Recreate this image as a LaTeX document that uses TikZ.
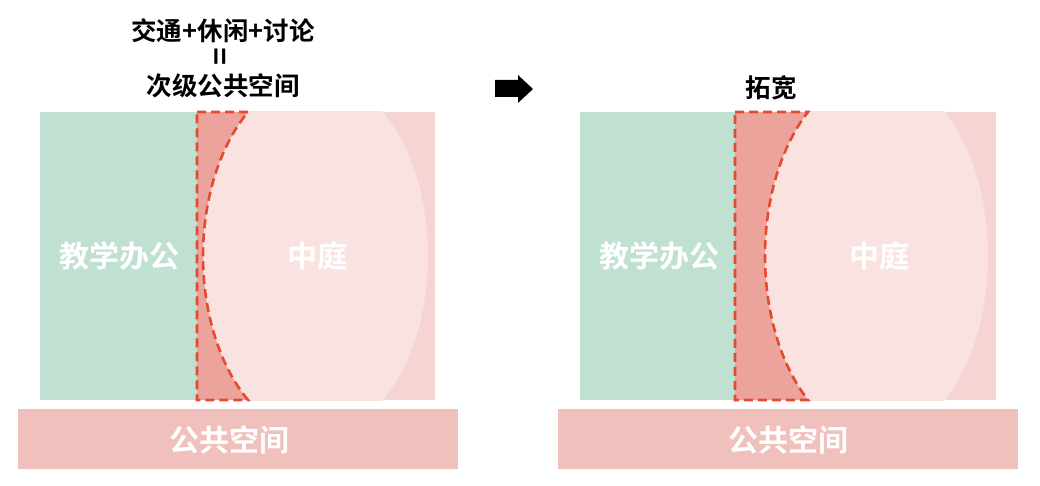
\documentclass[tikz,border=0pt]{standalone}
\usepackage{fontspec}
\newfontfamily\cjk{Noto Sans CJK SC}[BoldFont={Noto Sans CJK SC Bold}]
\definecolor{office}{HTML}{C0E1D2}
\definecolor{courtbg}{HTML}{F6D4D3}
\definecolor{court}{HTML}{F9E2E0}
\definecolor{wedge}{HTML}{ECA39C}
\definecolor{wedgeline}{HTML}{E64A2E}
\definecolor{bar}{HTML}{F0C0BD}

\begin{document}
\begin{tikzpicture}[x=1pt, y=1pt,
	title/.style={font=\cjk\bfseries\fontsize{25.5}{28}\selectfont, text=black, inner sep=0pt},
	label/.style={font=\cjk\bfseries\fontsize{30}{34}\selectfont, text=white, inner sep=0pt},
	wedgeborder/.style={draw=wedgeline, line width=2.6pt, dash pattern=on 9pt off 5pt, fill=wedge}]
	\useasboundingbox (0,0) rectangle (1040,485);
	% left: before
	\fill[office] (40,85) rectangle (197,373);
	\fill[courtbg] (197,85) rectangle (435,373);
	\begin{scope}
		\clip (197,85) rectangle (435,373);
		\fill[court] (315.5,229) ellipse [x radius=112.5pt, y radius=180pt];
	\end{scope}
	\draw[wedgeborder] (197,373) -- (248,373) arc[start angle=126.87, end angle=233.13, x radius=112.5pt, y radius=180pt] -- (197,85) -- cycle;
	\fill[bar] (18,16) rectangle (458,76);
	\node[label] (officeA) at (119,229) {教学办公};
	\node[label] (courtA) at (317,229) {中庭};
	\node[label] (publicA) at (229,45) {公共空间};
	\node[title] (useA) at (223,454) {交通+休闲+讨论};
	\node[title] (eqA) at (223,428) {\rotatebox{90}{\fontsize{30}{30}\selectfont =}};
	\node[title] (subA) at (223,399) {次级公共空间};
	% arrow
	\fill[black] (495,388) -- (518,388) -- (518,382) -- (533,396) -- (518,410) -- (518,405) -- (495,405) -- cycle;
	% right: widened
	\fill[office] (580,85) rectangle (735,373);
	\fill[courtbg] (735,85) rectangle (996,373);
	\begin{scope}
		\clip (735,85) rectangle (996,373);
		\fill[court] (876.5,229) ellipse [x radius=111.5pt, y radius=182.5pt];
	\end{scope}
	\draw[wedgeborder] (735,373) -- (808,373) arc[start angle=127.9, end angle=232.1, x radius=111.5pt, y radius=182.5pt] -- (735,85) -- cycle;
	\fill[bar] (558,16) rectangle (1018,76);
	\node[label] (officeB) at (659,229) {教学办公};
	\node[label] (courtB) at (879,229) {中庭};
	\node[label] (publicB) at (788,45) {公共空间};
	\node[title] (widen) at (771,397) {拓宽};
\end{tikzpicture}
\end{document}
